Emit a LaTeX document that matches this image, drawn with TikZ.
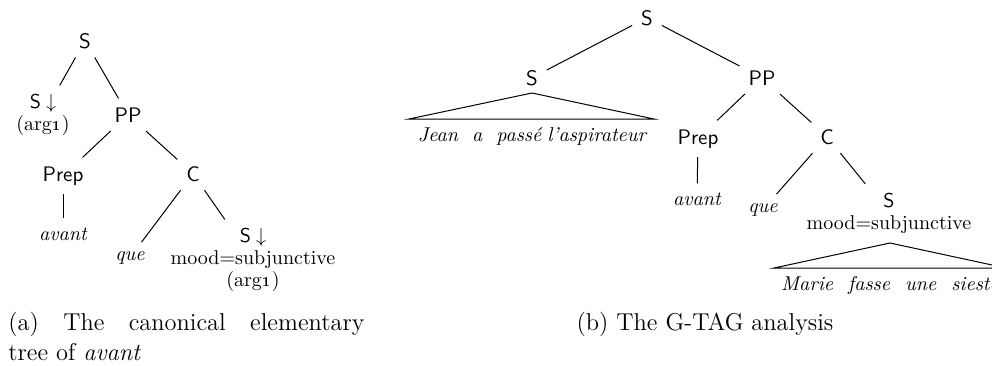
\documentclass[tikz,border=0pt]{standalone}
\tikzset{
  treenode/.style = {inner sep=3pt, outer sep=1.5pt,
    font=\fontsize{10}{11}\selectfont},
  cat_node/.style = {treenode, anchor=base,
    font=\sffamily\fontsize{10.5}{11}\selectfont},% categorie
  word_node/.style = {treenode, anchor=base,
    font=\itshape\fontsize{10}{11}\selectfont},% mot, feuille
  feat_node/.style = {treenode, align=center},% noeud avec traits
  yield_node/.style = {word_node, inner sep=0pt},% suite de mots sous un triangle
  cap_node/.style = {inner sep=0pt, anchor=base,
    font=\fontsize{12.2}{15}\selectfont},% sous-legende
  branch/.style = {line width=0.5pt},
  yield_tri/.style = {line width=0.5pt}
}
\begin{document}
\begin{tikzpicture}[x=0.5pt, y=-0.5pt]
  \useasboundingbox (0,0) rectangle (992,365);
  \clip (0,0) rectangle (992,365);

  % (a) arbre elementaire de avant
  \node [cat_node] (a_S) at (85,48) {S};
  \node [feat_node] (a_S_arg) at (43,115) {{\sffamily S}\hspace{2.5pt}$\downarrow$\\(arg\oldstylenums{1})};
  \node [cat_node] (a_PP) at (128,122) {PP};
  \node [cat_node] (a_Prep) at (63,181) {Prep};
  \node [cat_node] (a_C) at (193,181) {C};
  \node [word_node] (a_avant) at (63,240) {avant};
  \node [word_node] (a_que) at (130,260) {que};
  \node [feat_node] (a_S_subj) at (253,260)
    {{\sffamily S}\hspace{2.5pt}$\downarrow$\\mood=subjunctive\\(arg\oldstylenums{1})};
  \draw [branch] (a_S) -- (a_S_arg);
  \draw [branch] (a_S) -- (a_PP);
  \draw [branch] (a_PP) -- (a_Prep);
  \draw [branch] (a_PP) -- (a_C);
  \draw [branch] (a_Prep) -- (a_avant);
  \draw [branch] (a_C) -- (a_que);
  \draw [branch] (a_C) -- (a_S_subj);
  \node [cap_node, anchor=base west, text width=178pt, align=justify] (a_cap) at (8,330)
    {(a) The canonical elementary\linebreak tree of \emph{avant}};

  % (b) analyse G-TAG
  \node [cat_node] (b_S) at (647,25) {S};
  \node [cat_node] (b_S_left) at (532,85) {S};
  \node [cat_node] (b_PP) at (762,85) {PP};
  \node [yield_node] (b_jean) at (532,141)
    {Jean\hspace{7pt}a\hspace{7pt}passé\hspace{3pt}l'aspirateur};
  \node [cat_node] (b_Prep) at (698,144) {Prep};
  \node [cat_node] (b_C) at (827,144) {C};
  \node [word_node] (b_avant) at (697,205) {avant};
  \node [word_node] (b_que) at (763,212) {que};
  \node [feat_node] (b_S_subj) at (889,213) {{\sffamily S}\\mood=subjunctive};
  \node [yield_node] (b_marie) at (890,290)
    {Marie\hspace{7.5pt}fasse\hspace{7.5pt}une\hspace{7.5pt}sieste};
  \coordinate (b_jean_top) at (532,93);
  \coordinate (b_jean_l) at (409,119);
  \coordinate (b_jean_r) at (654,119);
  \coordinate (b_marie_top) at (890,243);
  \coordinate (b_marie_l) at (774,268);
  \coordinate (b_marie_r) at (1006,268);
  \draw [branch] (b_S) -- (b_S_left);
  \draw [branch] (b_S) -- (b_PP);
  \draw [branch] (b_PP) -- (b_Prep);
  \draw [branch] (b_PP) -- (b_C);
  \draw [branch] (b_Prep) -- (b_avant);
  \draw [branch] (b_C) -- (b_que);
  \draw [branch] (b_C) -- (b_S_subj);
  \draw [yield_tri] (b_jean_top) -- (b_jean_l) -- (b_jean_r) -- cycle;
  \draw [yield_tri] (b_marie_top) -- (b_marie_l) -- (b_marie_r) -- cycle;
  \node [cap_node] (b_cap) at (705,330) {(b) The G-TAG analysis};
\end{tikzpicture}
\end{document}
